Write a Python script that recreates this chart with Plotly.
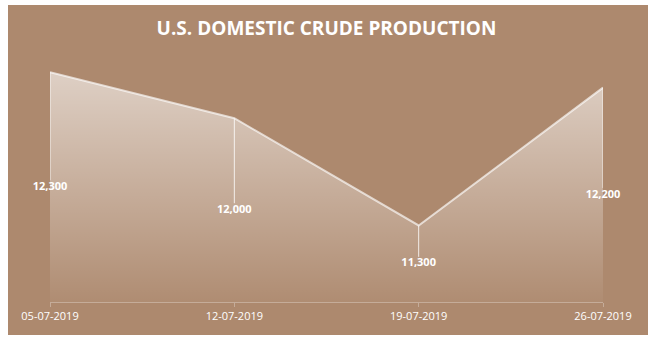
import plotly.graph_objects as go

dates = ["05-07-2019", "12-07-2019", "19-07-2019", "26-07-2019"]
production = [12300, 12000, 11300, 12200]
label_text = ["12,300", "12,000", "11,300", "12,200"]
y_min = 10800
y_max = 12400

BG = "#ad896e"
W, H = 657, 341
ml, mr, mt, mb = 50, 54, 57, 39

fig = go.Figure()

# area polygon (data + baseline) with vertical gradient
poly_x = dates + [dates[-1], dates[0]]
poly_y = production + [y_min, y_min]
fig.add_trace(go.Scatter(
    x=poly_x, y=poly_y, mode="none",
    fill="toself",
    fillcolor="rgba(255,255,255,0.35)",
    fillgradient=dict(type="vertical", start=y_min, stop=max(production),
                      colorscale=[[0, "rgba(255,255,255,0.03)"],
                                  [1, "rgba(255,255,255,0.60)"]]),
    hoverinfo="skip", showlegend=False,
))

# top line
fig.add_trace(go.Scatter(
    x=dates, y=production, mode="lines",
    line=dict(color="rgba(255,255,255,0.65)", width=2),
    hoverinfo="skip", showlegend=False,
))

# vertical edge lines from each point down to label
mids = [(v + y_min) / 2 for v in production]
for d, v, m in zip(dates, production, mids):
    fig.add_trace(go.Scatter(
        x=[d, d], y=[v, m + 45], mode="lines",
        line=dict(color="rgba(255,255,255,0.8)", width=1),
        hoverinfo="skip", showlegend=False,
    ))

# data labels centred in the area
fig.add_trace(go.Scatter(
    x=dates, y=mids, mode="text", text=label_text, cliponaxis=False,
    textfont=dict(family="Open Sans", size=11, color="white", weight="bold"),
    textposition="middle center", hoverinfo="skip", showlegend=False,
))

# brown background rectangle (with white outer border)
px = lambda p: (p - ml) / (W - ml - mr)
py = lambda p: (H - mb - p) / (H - mt - mb)
fig.add_shape(type="rect", xref="paper", yref="paper",
              x0=px(8), x1=px(648), y0=py(335), y1=py(5),
              fillcolor=BG, line=dict(width=0), layer="below")

fig.update_layout(
    width=W, height=H,
    margin=dict(l=ml, r=mr, t=mt, b=mb),
    paper_bgcolor="white", plot_bgcolor="rgba(0,0,0,0)",
    title=dict(text="<b>U.S. DOMESTIC CRUDE PRODUCTION</b>",
               x=0.5, xref="paper", xanchor="center",
               y=1 - 28 / H, yanchor="middle",
               font=dict(family="Open Sans", size=19, color="white")),
    xaxis=dict(type="category", range=[0, 3], showgrid=False, zeroline=False,
               showline=True, linecolor="rgba(255,255,255,0.3)", linewidth=1,
               ticks="outside", ticklen=4, tickcolor="rgba(255,255,255,0.3)",
               tickfont=dict(family="Open Sans", size=11, color="white")),
    yaxis=dict(range=[y_min, y_max], visible=False, showgrid=False),
)

fig.write_html("out.html")
